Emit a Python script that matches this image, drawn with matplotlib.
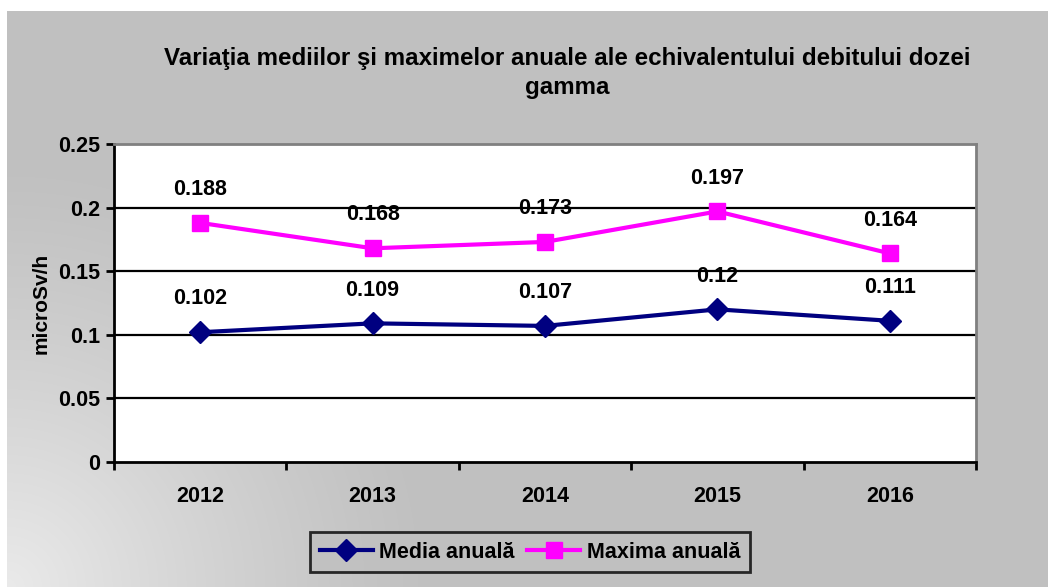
import numpy as np
import matplotlib
matplotlib.use("Agg")
import matplotlib.pyplot as plt

years = ["2012", "2013", "2014", "2015", "2016"]
media = [0.102, 0.109, 0.107, 0.12, 0.111]
maxima = [0.188, 0.168, 0.173, 0.197, 0.164]
yticks = [0, 0.05, 0.1, 0.15, 0.2, 0.25]
ytick_labels = ["0", "0.05", "0.1", "0.15", "0.2", "0.25"]
title = "Variaţia mediilor şi maximelor anuale ale echivalentului debitului dozei\ngamma"
ylabel = "microSv/h"
series_names = ["Media anuală", "Maxima anuală"]

plt.rcParams['font.family'] = ['Liberation Sans', 'DejaVu Sans']
plt.rcParams['font.weight'] = 'bold'

W, H = 1048, 587
fig = plt.figure(figsize=(W / 100, H / 100), dpi=100, facecolor='white')

# background panel with gradient
bx0, by_top = 7, 11
bg = fig.add_axes([bx0 / W, 0, 1 - bx0 / W, 1 - by_top / H], zorder=0)
pw, ph = W - bx0, H - by_top
xx, yy = np.meshgrid(np.arange(pw), np.arange(ph))
d = np.sqrt(xx ** 2 + (ph - yy) ** 2)
v = 192 + (234 - 192) * np.clip(1 - d / 430, 0, 1) ** 1.2
img = np.dstack([v, v, v]) / 255.0
bg.imshow(img, aspect='auto', interpolation='bilinear')
bg.set_axis_off()

left, right, top, bottom = 114, 976, 144, 462
ax = fig.add_axes([left / W, 1 - bottom / H, (right - left) / W, (bottom - top) / H], zorder=1)
ax.set_facecolor('white')
x = np.arange(len(years))
ax.set_xlim(-0.5, len(years) - 0.5)
ax.set_ylim(0, 0.25)

for yv in yticks[1:-1]:
    ax.axhline(yv, color='black', lw=1.6, zorder=1)

l1, = ax.plot(x, media, color='#000080', lw=3, marker='D', markersize=11, zorder=3)
l2, = ax.plot(x, maxima, color='#FF00FF', lw=3, marker='s', markersize=12, zorder=3)

fs = 15.5
for xi, v_ in zip(x, media):
    ax.annotate(f"{v_:g}", (xi, v_), xytext=(0, 24), textcoords='offset points',
                ha='center', va='center', fontsize=fs, fontweight='bold')
for xi, v_ in zip(x, maxima):
    ax.annotate(f"{v_:g}", (xi, v_), xytext=(0, 24), textcoords='offset points',
                ha='center', va='center', fontsize=fs, fontweight='bold')

ax.set_yticks(yticks)
ax.set_yticklabels(ytick_labels, fontsize=fs, fontweight='bold')
ax.set_xticks(np.arange(len(years) + 1) - 0.5, minor=False)
ax.set_xticklabels([])
ax.set_xticks(x, minor=True)
ax.set_xticklabels(years, minor=True, fontsize=fs, fontweight='bold')
ax.tick_params(axis='x', which='major', direction='out', length=6, width=2)
ax.tick_params(axis='x', which='minor', length=0, pad=17)
ax.tick_params(axis='y', direction='out', length=6, width=2, pad=4)

ax.spines['left'].set_linewidth(2)
ax.spines['bottom'].set_linewidth(2)
ax.spines['top'].set_color('#808080')
ax.spines['right'].set_color('#808080')
ax.spines['top'].set_linewidth(2)
ax.spines['right'].set_linewidth(2)

ax.set_ylabel(ylabel, fontsize=15, fontweight='bold', labelpad=5)

fig.text(567 / W, 1 - 73 / H, title, ha='center', va='center', fontsize=17.4,
         fontweight='bold', linespacing=1.35)

leg = fig.legend(handles=[l1, l2], labels=series_names, loc='center',
                 bbox_to_anchor=(530 / W, 1 - 552 / H), ncol=2, frameon=True,
                 fancybox=False, edgecolor='black', facecolor='#c0c0c0',
                 prop={'size': fs, 'weight': 'bold'}, handlelength=2.45,
                 columnspacing=0.6, handletextpad=0.3, borderpad=0.45,
                 borderaxespad=0)
leg.get_frame().set_linewidth(2)

fig.savefig("out.png", dpi=100, facecolor='white')
